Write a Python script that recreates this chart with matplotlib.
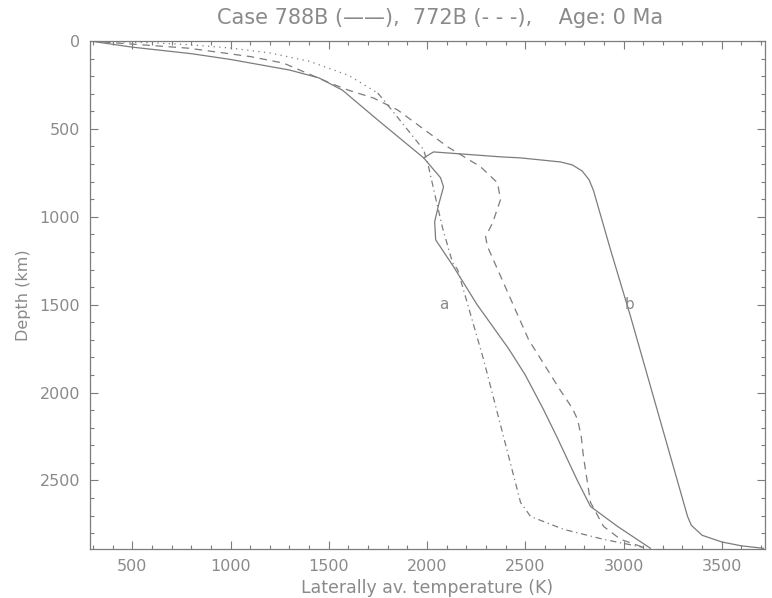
import matplotlib
matplotlib.use("Agg")
import matplotlib.pyplot as plt
from matplotlib.ticker import MultipleLocator

# Solid curve "a" (Case 788B)
temp_a = [285, 500, 800, 1000, 1300, 1450, 1570, 1750, 1983, 2069, 2084, 2059, 2039,
          2044, 2135, 2255, 2415, 2500, 2593, 2660, 2765, 2832, 2969, 3137]
depth_a = [0, 35, 72, 105, 165, 210, 280, 450, 665, 778, 830, 932, 1028,
           1131, 1284, 1500, 1750, 1900, 2097, 2250, 2500, 2648, 2761, 2886]

# Solid curve "b"
temp_b = [1983, 2033, 2374, 2476, 2679, 2740, 2790, 2825, 2847, 2934, 3036, 3326,
          3345, 3400, 3500, 3600, 3712]
depth_b = [665, 631, 659, 665, 688, 705, 740, 790, 850, 1188, 1568, 2705,
           2755, 2812, 2850, 2872, 2886]

# Dashed curve (Case 772B)
temp_d = [285, 787, 1103, 1270, 1509, 1595, 1729, 1850, 2105, 2273, 2359, 2374, 2334,
          2298, 2308, 2517, 2680, 2740, 2766, 2785, 2796, 2832, 2898, 2985, 3102]
depth_d = [0, 41, 89, 126, 240, 278, 325, 392, 602, 716, 807, 903, 1034,
           1114, 1170, 1699, 1990, 2090, 2153, 2250, 2364, 2625, 2761, 2835, 2881]

# Dash-dot curve (dotted near the surface)
temp_c = [285, 600, 800, 1000, 1200, 1400, 1600, 1749, 1779, 1983, 2008, 2054, 2079,
          2130, 2156, 2288, 2476, 2527, 2695, 2898, 3102]
depth_c = [0, 10, 22, 40, 68, 115, 195, 296, 335, 619, 716, 943, 1063,
           1261, 1301, 1813, 2625, 2705, 2778, 2835, 2881]
dotted_upto = 8  # number of points drawn dotted at the top

labels = ["a", "b"]
label_pos_t = [2085, 3030]
label_pos_d = [1500, 1500]

title = "Case 788B (\u2014\u2014),  772B (- - -),    Age: 0 Ma"
xlabel = "Laterally av. temperature (K)"
ylabel = "Depth (km)"

GRAY = "#7c7c7c"
TXT = "#8a8a8a"

fig = plt.figure(figsize=(7.72, 5.98), dpi=100)
ax = fig.add_axes([90 / 772, 1 - 549 / 598, 675 / 772, 508 / 598])

lw = 0.9
ax.plot(temp_a, depth_a, color=GRAY, lw=lw)
ax.plot(temp_b, depth_b, color=GRAY, lw=lw)
ax.plot(temp_d, depth_d, color=GRAY, lw=lw, linestyle=(0, (6, 4.5)))
ax.plot(temp_c[:dotted_upto], depth_c[:dotted_upto], color=GRAY, lw=lw, linestyle=(0, (1, 3.5)))
ax.plot(temp_c[dotted_upto - 1:], depth_c[dotted_upto - 1:], color=GRAY, lw=lw,
        linestyle=(0, (5, 3, 1, 3)))

for lab, t, d in zip(labels, label_pos_t, label_pos_d):
    ax.text(t, d, lab, color=TXT, fontsize=11, ha="center", va="center")

ax.set_xlim(285, 3720)
ax.set_ylim(2890, 0)
ax.xaxis.set_major_locator(MultipleLocator(500))
ax.xaxis.set_minor_locator(MultipleLocator(100))
ax.yaxis.set_major_locator(MultipleLocator(500))
ax.yaxis.set_minor_locator(MultipleLocator(100))
ax.tick_params(which="both", direction="in", top=True, right=True, colors=GRAY,
               labelcolor=TXT, labelsize=11.5, width=0.8)
ax.tick_params(which="major", length=6, pad=7)
ax.tick_params(which="minor", length=3)
for s in ax.spines.values():
    s.set_color(GRAY)
    s.set_linewidth(0.9)

fig.text(440 / 772, 1 - 18 / 598, title, color=TXT, fontsize=15, ha="center", va="center")
ax.set_xlabel(xlabel, color=TXT, fontsize=12.5, labelpad=4)
ax.set_ylabel(ylabel, color=TXT, fontsize=11.5, labelpad=6)

fig.savefig("out.png", dpi=100)
